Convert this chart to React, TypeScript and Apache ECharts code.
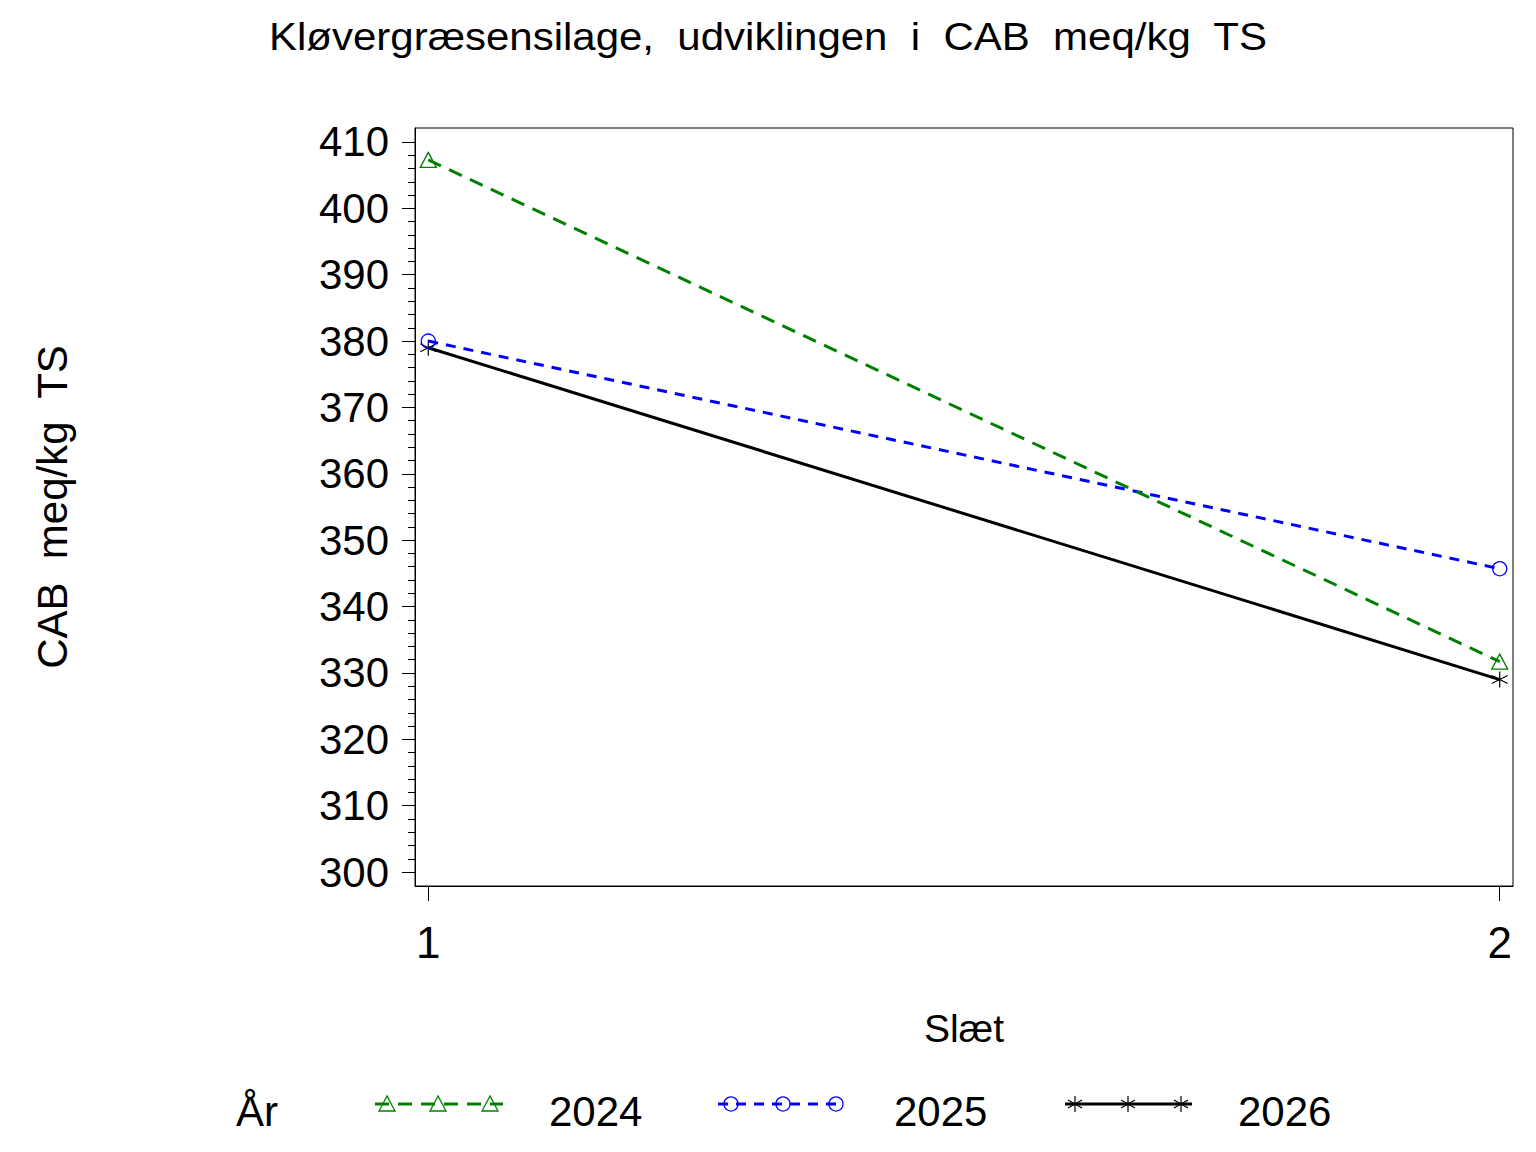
import React, { useEffect, useRef } from "react";
import * as echarts from "echarts";

const slaet = [1, 2];
const years = ["2024", "2025", "2026"];
const values2024 = [407.3, 331.7];
const values2025 = [380.0, 345.7];
const values2026 = [379.0, 329.0];
const yTicks = [300, 310, 320, 330, 340, 350, 360, 370, 380, 390, 400, 410];
const yMinorTicks = [302, 304, 306, 308, 312, 314, 316, 318, 322, 324, 326, 328, 332, 334, 336, 338, 342, 344, 346, 348, 352, 354, 356, 358, 362, 364, 366, 368, 372, 374, 376, 378, 382, 384, 386, 388, 392, 394, 396, 398, 402, 404, 406, 408];
const xTicks = [1, 2];

const FONT = "'Liberation Sans', Arial, Helvetica, sans-serif";
const ASTERISK = "path://M8,0L8,16M1,4L15,12M1,12L15,4";

const seriesStyles = [
  { color: "#008000", dash: [14, 9], symbol: "triangle", size: [16, 15] },
  { color: "#0000ff", dash: [10, 8], symbol: "circle", size: 14 },
  { color: "#000000", dash: "solid", symbol: ASTERISK, size: 16 },
];

const legendSlots = [
  { lineX: 375, lineW: 128, marks: [387, 438, 490], textX: 549 },
  { lineX: 718, lineW: 124, marks: [731, 783, 836], textX: 894 },
  { lineX: 1065, lineW: 127, marks: [1075, 1128, 1181], textX: 1238 },
];

function markerGraphic(i: number, cx: number, cy: number): any {
  const c = seriesStyles[i].color;
  if (i === 0) {
    return {
      type: "polygon",
      shape: { points: [[cx, cy - 8], [cx - 8, cy + 7], [cx + 8, cy + 7]] },
      style: { fill: "none", stroke: c, lineWidth: 1.3 },
    };
  }
  if (i === 1) {
    return { type: "circle", shape: { cx, cy, r: 7 }, style: { fill: "none", stroke: c, lineWidth: 1.3 } };
  }
  return {
    type: "group",
    children: [
      { type: "line", shape: { x1: cx, y1: cy - 8, x2: cx, y2: cy + 8 }, style: { stroke: c, lineWidth: 1.2 } },
      { type: "line", shape: { x1: cx - 7, y1: cy - 4, x2: cx + 7, y2: cy + 4 }, style: { stroke: c, lineWidth: 1.2 } },
      { type: "line", shape: { x1: cx - 7, y1: cy + 4, x2: cx + 7, y2: cy - 4 }, style: { stroke: c, lineWidth: 1.2 } },
    ],
  };
}

export default function App() {
  const ref = useRef<HTMLDivElement>(null);
  useEffect(() => {
    document.body.style.margin = "0";
    const chart = echarts.init(ref.current!, null, { renderer: "svg" });
    const allValues = [values2024, values2025, values2026];

    const legendEls: any[] = [
      {
        type: "text",
        x: 236,
        y: 1111,
        style: { text: "År", font: `42px ${FONT}`, fill: "#000", textVerticalAlign: "middle" },
      },
    ];
    legendSlots.forEach((slot, i) => {
      const st = seriesStyles[i];
      legendEls.push({
        type: "line",
        shape: { x1: slot.lineX, y1: 1104, x2: slot.lineX + slot.lineW, y2: 1104 },
        style: { stroke: st.color, lineWidth: 3, lineDash: st.dash === "solid" ? null : st.dash },
      });
      slot.marks.forEach((mx) => legendEls.push(markerGraphic(i, mx, 1104)));
      legendEls.push({
        type: "text",
        x: slot.textX,
        y: 1111,
        style: { text: years[i], font: `42px ${FONT}`, fill: "#000", textVerticalAlign: "middle" },
      });
    });

    const option: any = {
      animation: false,
      backgroundColor: "#fff",
      grid: { left: 415, right: 23, top: 128, bottom: 266, show: true, borderColor: "#000", borderWidth: 1, backgroundColor: "transparent" },
      xAxis: {
        type: "value",
        min: 0.9876,
        max: 2.0124,
        axisLine: { show: true, lineStyle: { color: "#000", width: 1 } },
        axisTick: { show: true, customValues: xTicks, length: 15, lineStyle: { color: "#000", width: 1 } },
        axisLabel: { customValues: xTicks, margin: 34, fontSize: 44, fontFamily: FONT, color: "#000" },
        splitLine: { show: false },
      },
      yAxis: [
        {
          type: "value",
          min: 297.9,
          max: 412.1,
          axisLine: { show: true, lineStyle: { color: "#000", width: 1 } },
          axisTick: { show: true, customValues: yTicks, length: 13, lineStyle: { color: "#000", width: 1 } },
          axisLabel: { customValues: yTicks, margin: 26, fontSize: 42, fontFamily: FONT, color: "#000" },
          splitLine: { show: false },
        },
        {
          type: "value",
          min: 297.9,
          max: 412.1,
          position: "left",
          axisLine: { show: false },
          axisTick: { show: true, customValues: yMinorTicks, length: 7, lineStyle: { color: "#000", width: 1 } },
          axisLabel: { show: false },
          splitLine: { show: false },
        },
      ],
      series: allValues.map((vals, i) => ({
        type: "line",
        name: years[i],
        data: slaet.map((x, j) => [x, vals[j]]),
        symbol: seriesStyles[i].symbol,
        symbolSize: seriesStyles[i].size,
        itemStyle: { color: "none", borderColor: seriesStyles[i].color, borderWidth: i === 2 ? 1.2 : 1.3 },
        lineStyle: { color: seriesStyles[i].color, width: 3, type: seriesStyles[i].dash },
        z: 3 - i,
      })),
      graphic: [
        {
          type: "text",
          x: 768,
          y: 37,
          scaleY: 0.92,
          style: {
            text: "Kløvergræsensilage,  udviklingen  i  CAB  meq/kg  TS",
            font: `42px ${FONT}`,
            fill: "#000",
            textAlign: "center",
            textVerticalAlign: "middle",
          },
        },
        {
          type: "text",
          x: 52,
          y: 507,
          rotation: Math.PI / 2,
          style: {
            text: "CAB  meq/kg  TS",
            font: `42px ${FONT}`,
            fill: "#000",
            textAlign: "center",
            textVerticalAlign: "middle",
          },
        },
        {
          type: "text",
          x: 964,
          y: 1028,
          style: { text: "Slæt", font: `39px ${FONT}`, fill: "#000", textAlign: "center", textVerticalAlign: "middle" },
        },
        ...legendEls,
      ],
    };
    chart.setOption(option);
    return () => chart.dispose();
  }, []);
  return <div ref={ref} style={{ position: "absolute", left: 0, top: 0, width: 1536, height: 1152 }} />;
}
